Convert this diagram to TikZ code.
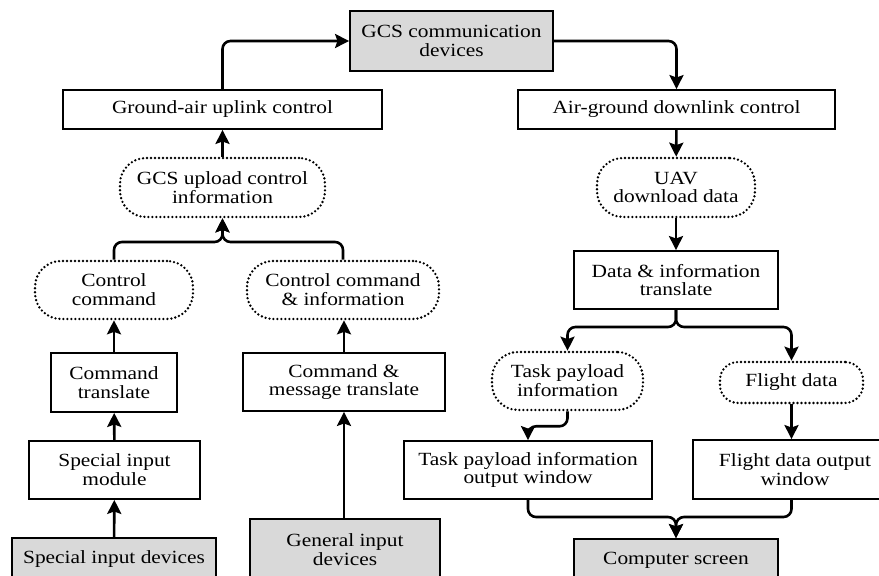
\documentclass[tikz,border=0pt]{standalone}
\usepackage{fontspec}
\setmainfont{Liberation Serif}[FakeStretch=1.15]
\usepackage{tikz}
\usetikzlibrary{arrows.meta}

\begin{document}
\begin{tikzpicture}[
    x=0.5pt, y=-0.5pt,
    every node/.style={font=\fontsize{9.3}{9.4}\selectfont},
    proc/.style={rectangle, draw, line width=0.9pt, fill=white,
                 align=center, inner sep=1pt},
    device/.style={proc, fill=gray!30},
    data/.style={rectangle, draw, rounded corners=13pt, line width=1.3pt,
                 dash pattern=on 0pt off 2pt, line cap=round,
                 align=center, inner sep=1pt},
    arr/.style={-{Stealth[length=7pt,width=7pt,inset=1.2pt]},
                line width=1.3pt, rounded corners=4pt},
  ]
  \clip (0,0) rectangle (879,576);

  % === Top: communication devices ===
  \node[device, minimum width=101.5pt, minimum height=30pt] (gcs) at (451.5,41)
    {GCS communication\\devices};
  \node[proc, minimum width=159.5pt, minimum height=19.5pt] (uplink) at (222.5,109.5)
    {Ground-air uplink control};
  \node[proc, minimum width=158.5pt, minimum height=19.5pt] (downlink) at (676.5,109.5)
    {Air-ground downlink control};

  \draw[arr] (uplink.north) |- (gcs.west);
  \draw[arr] (gcs.east) -| (downlink.north);

  % === Uplink side ===
  \node[data, minimum width=102.5pt, minimum height=29.5pt] (upload) at (222.5,187.5)
    {GCS upload control\\information};
  \node[data, minimum width=79pt, minimum height=29pt] (ctrlcmd) at (114,290)
    {Control\\command};
  \node[data, minimum width=96pt, minimum height=29pt] (ctrlinfo) at (343,290)
    {Control command\\\& information};
  \node[proc, minimum width=63pt, minimum height=29.5pt] (cmdtr) at (114,382.5)
    {Command\\translate};
  \node[proc, minimum width=101pt, minimum height=29pt] (msgtr) at (344,382)
    {Command \&\\message translate};
  \node[proc, minimum width=85.5pt, minimum height=29pt] (spmod) at (114.5,470)
    {Special input\\module};
  \node[device, minimum width=102pt, minimum height=21pt] (spdev) at (114,559)
    {Special input devices};
  \node[device, minimum width=95pt, minimum height=30.5pt] (gendev) at (345,549.5)
    {General input\\devices};

  \coordinate (upjoin) at (222.5,242);
  \draw[arr] (upload) -- (uplink);
  \draw[arr] (ctrlcmd.north) |- (upjoin) -- (upload.south);
  \draw[arr] (ctrlinfo.north) |- (upjoin) -- (upload.south);
  \draw[arr] (cmdtr) -- (ctrlcmd);
  \draw[arr] (msgtr.north) -- (msgtr.north |- ctrlinfo.south);
  \draw[arr] (spmod) -- (cmdtr);
  \draw[arr] (spdev) -- (spmod);
  \draw[arr] (gendev.north -| msgtr) -- (msgtr.south);

  % === Downlink side ===
  \node[data, minimum width=79pt, minimum height=29.5pt] (uavdl) at (676,187.5)
    {UAV\\download data};
  \node[proc, minimum width=102pt, minimum height=29pt] (datatr) at (676,280)
    {Data \& information\\translate};
  \node[data, minimum width=75.5pt, minimum height=29pt] (taskinfo) at (567.5,381)
    {Task payload\\information};
  \node[data, rounded corners=9pt, minimum width=71.5pt, minimum height=20.5pt] (flight)
    at (791.5,382.5) {Flight data};
  \node[proc, minimum width=124pt, minimum height=29pt] (taskwin) at (528,470)
    {Task payload information\\output window};
  \node[proc, minimum width=102pt, minimum height=29.5pt] (flightwin) at (795,469.5)
    {Flight data output\\window};
  \node[device, minimum width=102pt, minimum height=21pt] (screen) at (676,560)
    {Computer screen};

  \coordinate (dnsplit) at (676,327);
  \coordinate (scrjoin) at (676,517);
  \draw[arr] (downlink) -- (uavdl);
  \draw[arr] (uavdl) -- (datatr);
  \draw[arr] (datatr.south) -- (dnsplit) -| (taskinfo.north);
  \draw[arr] (datatr.south) -- (dnsplit) -| (flight.north);
  \draw[arr] (taskinfo.south) -- ++(0,15) -| (taskwin.north);
  \draw[arr] (flight.south) -- (flight.south |- flightwin.north);
  \draw[arr] (taskwin.south) |- (scrjoin) -- (screen.north);
  \draw[arr] (flight.south |- flightwin.south) |- (scrjoin) -- (screen.north);

\end{tikzpicture}
\end{document}
